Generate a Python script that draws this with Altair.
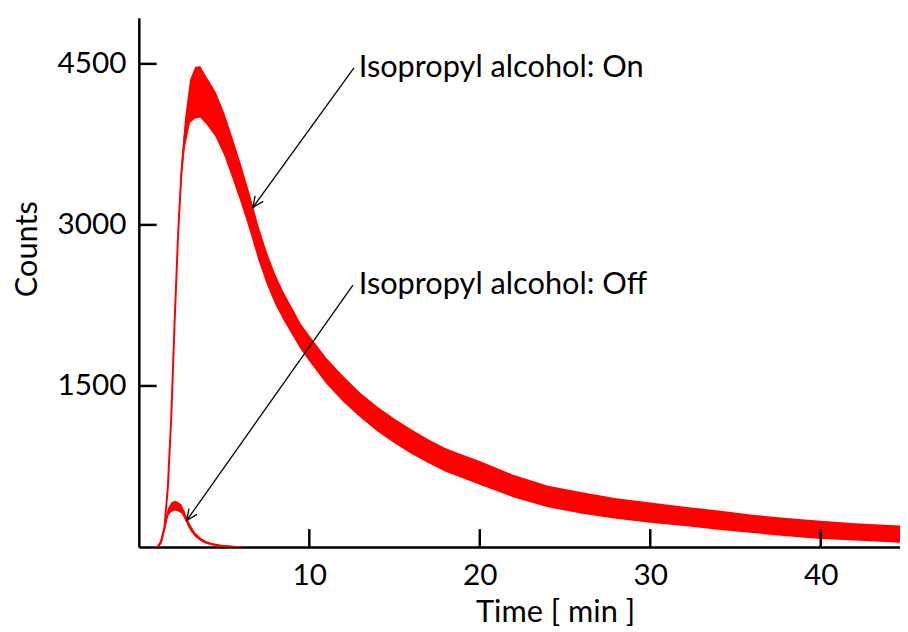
import altair as alt
import pandas as pd

# ---- data ----
on_t = [1.10, 1.30, 1.50, 1.70, 1.90, 2.10, 2.30, 2.50, 2.70, 3.00, 3.30, 3.60,
        4.00, 4.50, 5.00, 5.50, 6.00, 6.50, 7.00, 7.50, 8.00, 8.50, 9.00, 9.50,
        10.0, 11.0, 12.0, 13.0, 14.0, 15.0, 16.0, 17.0, 18.0, 19.0, 20.0, 22.0,
        24.0, 26.0, 28.0, 30.0, 32.0, 34.0, 36.0, 38.0, 40.0, 42.0, 44.65]
on_mid = [0, 40, 180, 550, 1200, 2100, 2900, 3500, 3850, 4150, 4230, 4240,
          4150, 4030, 3850, 3620, 3380, 3120, 2840, 2600, 2400, 2240, 2100, 1960,
          1850, 1640, 1470, 1320, 1190, 1080, 980, 890, 810, 750, 690, 565,
          470, 410, 358, 320, 285, 250, 215, 185, 160, 140, 120]
on_half = [0, 15, 25, 30, 40, 50, 60, 80, 130, 200, 240, 240,
           220, 210, 200, 190, 180, 170, 160, 150, 140, 130, 125, 120,
           120, 120, 120, 115, 115, 115, 115, 110, 110, 110, 110, 105,
           100, 100, 95, 95, 90, 90, 85, 85, 85, 80, 80]

off_t = [1.10, 1.30, 1.50, 1.70, 1.90, 2.10, 2.30, 2.50, 2.70, 2.90, 3.10, 3.30,
         3.60, 3.90, 4.30, 4.80, 5.60, 6.20]
off_mid = [0, 50, 170, 320, 370, 385, 375, 355, 290, 215, 160, 115,
           72, 45, 25, 12, 3, 0]
off_half = [0, 10, 20, 35, 45, 45, 45, 40, 35, 30, 25, 20,
            15, 12, 10, 8, 3, 0]

x_ticks = [10, 20, 30, 40]
y_ticks = [1500, 3000, 4500]

labels = ["Isopropyl alcohol: On", "Isopropyl alcohol: Off"]
label_t = [12.9, 12.9]
label_c = [4380, 2358]
arrow_t0 = [12.62, 12.56]
arrow_c0 = [4463, 2440]
arrow_t1 = [6.69, 2.81]
arrow_c1 = [3162, 247]

RED = "#FF0000"
FONT = "Lato"
W, H = 768, 534

# ---- tables ----
on_df = pd.DataFrame({"t": on_t, "m": on_mid,
                      "c": [m - h for m, h in zip(on_mid, on_half)],
                      "c2": [m + h for m, h in zip(on_mid, on_half)]})
off_df = pd.DataFrame({"t": off_t, "m": off_mid,
                       "c": [m - h for m, h in zip(off_mid, off_half)],
                       "c2": [m + h for m, h in zip(off_mid, off_half)]})
xt_df = pd.DataFrame({"t": x_ticks})
yt_df = pd.DataFrame({"c": y_ticks})
ann_df = pd.DataFrame({"label": labels, "t": label_t, "c": label_c,
                       "t0": arrow_t0, "c0": arrow_c0,
                       "t1": arrow_t1, "c1": arrow_c1})

xscale = alt.Scale(domain=[0, 44.65], nice=False, zero=False)
yscale = alt.Scale(domain=[0, 4930], nice=False)

xaxis = alt.Axis(values=x_ticks, ticks=False, grid=False, title="Time [ min ]",
                 format="d", labelPadding=14, titleX=420, titleY=75,
                 titleAlign="center", titleBaseline="alphabetic")
yaxis = alt.Axis(values=y_ticks, ticks=False, grid=False, title="Counts",
                 format="d", labelPadding=13, titleX=-112, titleY=233,
                 titleAlign="center", titleBaseline="middle", titleAngle=-90)


def X(field):
    return alt.X(field, type="quantitative", scale=xscale, axis=xaxis)


def Y(field):
    return alt.Y(field, type="quantitative", scale=yscale, axis=yaxis)


def band(df):
    area = alt.Chart(df).mark_area(color=RED, clip=True, opacity=1).encode(
        x=X("t"), y=Y("c"), y2=alt.Y2("c2"))
    line = alt.Chart(df).mark_line(color=RED, strokeWidth=2, clip=True).encode(
        x=X("t"), y=Y("m"))
    return area + line


xticks = alt.Chart(xt_df).mark_rule(color="black", strokeWidth=2.5).encode(
    x=X("t"), y=alt.value(H - 18), y2=alt.value(H))
yticks = alt.Chart(yt_df).mark_rule(color="black", strokeWidth=2.5).encode(
    y=Y("c"), x=alt.value(0), x2=alt.value(18))

arrows = alt.Chart(ann_df).mark_rule(color="black", strokeWidth=1.3).encode(
    x=X("t0"), y=Y("c0"), x2="t1", y2="c1")
heads = alt.Chart(ann_df).mark_point(
    shape="M -1 -0.45 L 0 0 L -1 0.45", filled=False, stroke="black",
    strokeWidth=1.3, size=484, angle=125, opacity=1).encode(
    x=X("t1"), y=Y("c1"))
texts = alt.Chart(ann_df).mark_text(
    align="left", baseline="alphabetic", font=FONT, fontSize=31,
    color="black").encode(x=X("t"), y=Y("c"), text="label")

chart = alt.layer(band(on_df), band(off_df), xticks, yticks, arrows, heads, texts).properties(
    width=W, height=H,
    autosize=alt.AutoSizeParams(type="none"),
    padding={"left": 132, "top": 7, "right": 0, "bottom": 83},
).configure_view(stroke=None).configure_axis(
    domainColor="black", domainWidth=2.5, labelColor="black", labelFont=FONT,
    labelFontSize=30, titleFont=FONT, titleFontSize=31, titleColor="black",
    titleFontWeight="normal", labelFlush=False, labelOverlap=False,
)

chart.save("out.html", embed_options={"renderer": "svg", "actions": False})
